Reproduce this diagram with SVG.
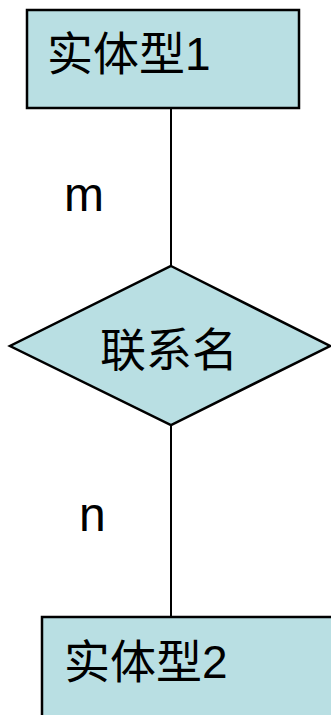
<svg xmlns="http://www.w3.org/2000/svg" width="331" height="715" viewBox="0 0 331 715">
<style>
.shape{fill:#b9dfe3;stroke:#000;stroke-width:2.5}
.lbl{font-family:"Liberation Sans","Noto Sans CJK SC",sans-serif;font-size:46px;fill:#000}
.card{font-family:"Liberation Sans",sans-serif;font-size:48px;fill:#000}
.conn{stroke:#000;stroke-width:2;fill:none}
</style>
<rect width="331" height="715" fill="#fff"/>
<g id="connectors">
<line class="conn" x1="171" y1="108" x2="171" y2="266"/>
<line class="conn" x1="171" y1="425" x2="171" y2="617"/>
<text class="card" x="64" y="211">m</text>
<text class="card" x="79" y="531">n</text>
</g>
<g id="entity1">
<rect class="shape" x="27" y="10" width="272" height="98"/>
<text class="lbl" x="47" y="70">实体型1</text>
</g>
<g id="relation">
<polygon class="shape" points="171,266 330,346 171,425 10,346"/>
<text class="lbl" x="100" y="366">联系名</text>
</g>
<g id="entity2">
<rect class="shape" x="42" y="617" width="300" height="110"/>
<text class="lbl" x="64" y="678">实体型2</text>
</g>
</svg>
